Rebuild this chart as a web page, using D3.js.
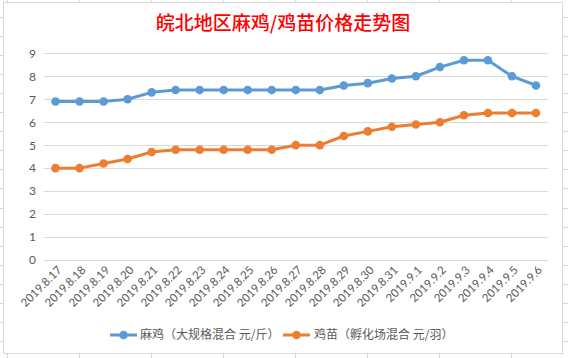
<!DOCTYPE html>
<html><head><meta charset="utf-8">
<script src="https://cdn.jsdelivr.net/npm/d3@7"></script>
<style>body{margin:0;background:#fff}svg{display:block}</style>
</head><body><svg id="c" width="568" height="358"></svg>
<script>
const dates = ["2019.8.17","2019.8.18","2019.8.19","2019.8.20","2019.8.21","2019.8.22","2019.8.23","2019.8.24","2019.8.25","2019.8.26","2019.8.27","2019.8.28","2019.8.29","2019.8.30","2019.8.31","2019.9.1","2019.9.2","2019.9.3","2019.9.4","2019.9.5","2019.9.6"];
const maji = [6.9,6.9,6.9,7.0,7.3,7.4,7.4,7.4,7.4,7.4,7.4,7.4,7.6,7.7,7.9,8.0,8.4,8.7,8.7,8.0,7.6];
const jimiao = [4.0,4.0,4.2,4.4,4.7,4.8,4.8,4.8,4.8,4.8,5.0,5.0,5.4,5.6,5.8,5.9,6.0,6.3,6.4,6.4,6.4];
const yTicks = [0,1,2,3,4,5,6,7,8,9];
const seriesNames = ["麻鸡（大规格混合 元/斤）","鸡苗（孵化场混合 元/羽）"];
const title = "皖北地区麻鸡/鸡苗价格走势图";

const svg = d3.select("#c");
const W = 568, H = 358;
const font = "Lato, 'Noto Sans CJK SC', sans-serif";

// spreadsheet grid behind chart
const gv = d3.range(7, W, 72), gh = d3.range(17, H, 19.05);
svg.append("g").selectAll("line.v").data(gv).join("line")
  .attr("x1", d=>d+0.5).attr("x2", d=>d+0.5).attr("y1",0).attr("y2",H)
  .attr("stroke","#d4d4d4");
svg.append("g").selectAll("line.h").data(gh).join("line")
  .attr("y1", d=>Math.round(d)+0.5).attr("y2", d=>Math.round(d)+0.5).attr("x1",0).attr("x2",W)
  .attr("stroke","#d4d4d4");

// chart area
svg.append("rect").attr("x",3.5).attr("y",2.5).attr("width",559).attr("height",351)
  .attr("fill","#fff").attr("stroke","#d9d9d9");

const x = d3.scaleBand().domain(dates).range([43.5, 548]).padding(0);
const y = d3.scaleLinear().domain([0,9]).range([260, 53.3]);
const cx = d => x(d) + x.bandwidth()/2;

// gridlines
svg.append("g").selectAll("line").data(yTicks).join("line")
  .attr("x1", 43.5).attr("x2", 548)
  .attr("y1", d=>Math.round(y(d))+0.5).attr("y2", d=>Math.round(y(d))+0.5)
  .attr("stroke","#d9d9d9").attr("stroke-width",1);

// y axis labels
const yAxis = d3.axisLeft(y).tickValues(yTicks).tickSize(0).tickPadding(0);
const gy = svg.append("g").attr("transform","translate(36,0)").call(yAxis);
gy.select(".domain").remove();
gy.selectAll("text").attr("font-family",font).attr("font-size",12).attr("fill","#595959");

// x axis labels
const xAxis = d3.axisBottom(x).tickSize(0).tickPadding(0);
const gx = svg.append("g").attr("transform","translate(0,266)").call(xAxis);
gx.select(".domain").remove();
gx.selectAll("text").attr("font-family",font).attr("font-size",11.5).attr("fill","#595959")
  .attr("text-anchor","end").attr("dy","0.35em")
  .attr("transform","translate(4,2) rotate(-45)");

// lines
const colors = ["#5B9BD5","#ED7D31"];
const series = [maji, jimiao];
const line = d3.line().x((d,i)=>cx(dates[i])).y(d=>y(d));
series.forEach((s,k)=>{
  svg.append("path").datum(s).attr("d",line).attr("fill","none")
    .attr("stroke",colors[k]).attr("stroke-width",3).attr("stroke-linejoin","round");
  svg.append("g").selectAll("circle").data(s).join("circle")
    .attr("cx",(d,i)=>cx(dates[i])).attr("cy",d=>y(d)).attr("r",4.3)
    .attr("fill",colors[k]);
});

// title
svg.append("text").attr("x",283).attr("y",30).attr("text-anchor","middle")
  .attr("font-family","'Noto Sans CJK SC', sans-serif").attr("font-size",19).attr("font-weight",500)
  .attr("fill","#FF0000").text(title);

// legend
const lg = [{x0:110, tx:140},{x0:283, tx:314}];
lg.forEach((l,k)=>{
  const g = svg.append("g");
  g.append("line").attr("x1",l.x0).attr("x2",l.x0+27).attr("y1",335).attr("y2",335)
    .attr("stroke",colors[k]).attr("stroke-width",3);
  g.append("circle").attr("cx",l.x0+13.5).attr("cy",335).attr("r",4.3).attr("fill",colors[k]);
  g.append("text").attr("x",l.tx).attr("y",335).attr("dy","0.35em")
    .attr("font-family","'Noto Sans CJK SC', sans-serif").attr("font-size",12).attr("fill","#595959")
    .text(seriesNames[k]);
});
</script></body></html>
